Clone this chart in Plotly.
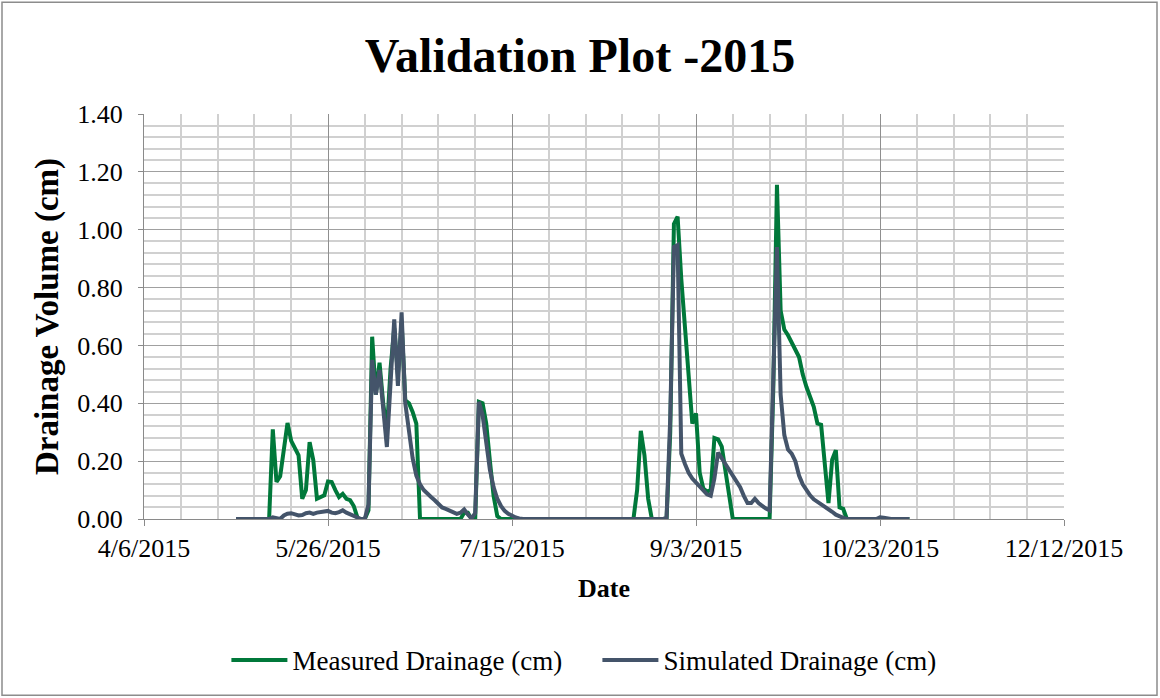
import plotly.graph_objects as go

# ---- data ----
measured_dates = [
    "2015-05-01", "2015-05-10", "2015-05-11", "2015-05-12", "2015-05-13", "2015-05-15",
    "2015-05-16", "2015-05-17", "2015-05-18", "2015-05-19", "2015-05-20", "2015-05-21",
    "2015-05-22", "2015-05-23", "2015-05-24", "2015-05-25", "2015-05-26", "2015-05-27",
    "2015-05-28", "2015-05-29", "2015-05-30", "2015-05-31", "2015-06-01", "2015-06-02",
    "2015-06-03", "2015-06-04", "2015-06-05", "2015-06-06", "2015-06-07", "2015-06-08",
    "2015-06-09", "2015-06-10", "2015-06-11", "2015-06-12", "2015-06-13", "2015-06-14",
    "2015-06-15", "2015-06-16", "2015-06-17", "2015-06-18", "2015-06-19", "2015-06-20",
    "2015-07-01", "2015-07-02", "2015-07-03", "2015-07-04", "2015-07-05", "2015-07-06",
    "2015-07-07", "2015-07-08", "2015-07-09", "2015-07-10", "2015-07-11", "2015-07-12",
    "2015-08-17", "2015-08-18", "2015-08-19", "2015-08-20", "2015-08-21", "2015-08-22",
    "2015-08-26", "2015-08-27", "2015-08-28", "2015-08-29", "2015-08-30", "2015-08-31",
    "2015-09-01", "2015-09-02", "2015-09-03", "2015-09-04", "2015-09-05", "2015-09-06",
    "2015-09-07", "2015-09-08", "2015-09-09", "2015-09-10", "2015-09-13", "2015-09-23",
    "2015-09-24", "2015-09-25", "2015-09-26", "2015-09-27", "2015-09-28", "2015-09-29",
    "2015-09-30", "2015-10-01", "2015-10-02", "2015-10-03", "2015-10-05", "2015-10-06",
    "2015-10-07", "2015-10-09", "2015-10-10", "2015-10-11", "2015-10-12", "2015-10-13",
    "2015-10-14", "2015-10-31",
]
measured_values = [
    0.0, 0.0, 0.31, 0.128, 0.148, 0.332,
    0.27, 0.245, 0.22, 0.07, 0.10, 0.266,
    0.204, 0.07, 0.075, 0.082, 0.13, 0.128,
    0.10, 0.076, 0.087, 0.07, 0.065, 0.045,
    0.005, 0.0, 0.0, 0.03, 0.63, 0.43,
    0.54, 0.40, 0.30, 0.52, 0.66, 0.50,
    0.68, 0.41, 0.40, 0.37, 0.33, 0.0,
    0.0, 0.022, 0.022, 0.0, 0.0, 0.405,
    0.40, 0.33, 0.20, 0.08, 0.01, 0.0,
    0.0, 0.10, 0.305, 0.22, 0.07, 0.0,
    0.0, 0.30, 1.02, 1.045, 0.83, 0.66,
    0.50, 0.33, 0.365, 0.16, 0.105, 0.095,
    0.10, 0.28, 0.275, 0.25, 0.0, 0.0,
    0.45, 1.155, 0.72, 0.655, 0.635, 0.61,
    0.59, 0.56, 0.50, 0.457, 0.388, 0.33,
    0.326, 0.055, 0.205, 0.238, 0.04, 0.035,
    0.0, 0.0,
]

simulated_dates = [
    "2015-05-01", "2015-05-10", "2015-05-11", "2015-05-12", "2015-05-13", "2015-05-14",
    "2015-05-15", "2015-05-16", "2015-05-17", "2015-05-18", "2015-05-19", "2015-05-20",
    "2015-05-21", "2015-05-22", "2015-05-23", "2015-05-24", "2015-05-25", "2015-05-26",
    "2015-05-27", "2015-05-28", "2015-05-29", "2015-05-30", "2015-05-31", "2015-06-01",
    "2015-06-02", "2015-06-03", "2015-06-04", "2015-06-05", "2015-06-06", "2015-06-07",
    "2015-06-08", "2015-06-09", "2015-06-10", "2015-06-11", "2015-06-12", "2015-06-13",
    "2015-06-14", "2015-06-15", "2015-06-16", "2015-06-17", "2015-06-18", "2015-06-19",
    "2015-06-20", "2015-06-21", "2015-06-22", "2015-06-23", "2015-06-24", "2015-06-25",
    "2015-06-26", "2015-06-27", "2015-06-28", "2015-06-29", "2015-06-30", "2015-07-01",
    "2015-07-02", "2015-07-03", "2015-07-04", "2015-07-05", "2015-07-06", "2015-07-07",
    "2015-07-08", "2015-07-09", "2015-07-10", "2015-07-11", "2015-07-12", "2015-07-13",
    "2015-07-14", "2015-07-15", "2015-07-16", "2015-07-17", "2015-07-18", "2015-08-25",
    "2015-08-26", "2015-08-27", "2015-08-28", "2015-08-29", "2015-08-30", "2015-08-31",
    "2015-09-01", "2015-09-02", "2015-09-03", "2015-09-04", "2015-09-05", "2015-09-06",
    "2015-09-07", "2015-09-08", "2015-09-09", "2015-09-10", "2015-09-11", "2015-09-12",
    "2015-09-13", "2015-09-14", "2015-09-15", "2015-09-16", "2015-09-17", "2015-09-18",
    "2015-09-19", "2015-09-20", "2015-09-21", "2015-09-22", "2015-09-23", "2015-09-24",
    "2015-09-25", "2015-09-26", "2015-09-27", "2015-09-28", "2015-09-29", "2015-09-30",
    "2015-10-01", "2015-10-02", "2015-10-03", "2015-10-04", "2015-10-05", "2015-10-06",
    "2015-10-07", "2015-10-08", "2015-10-09", "2015-10-10", "2015-10-11", "2015-10-12",
    "2015-10-13", "2015-10-14", "2015-10-15", "2015-10-22", "2015-10-23", "2015-10-24",
    "2015-10-25", "2015-10-26", "2015-10-31",
]
simulated_values = [
    0.0, 0.0, 0.006, 0.002, 0.0, 0.012,
    0.018, 0.02, 0.016, 0.012, 0.014, 0.02,
    0.022, 0.018, 0.022, 0.025, 0.027, 0.028,
    0.022, 0.02, 0.024, 0.03, 0.022, 0.016,
    0.012, 0.005, 0.0, 0.0, 0.05, 0.55,
    0.43, 0.515, 0.38, 0.249, 0.47, 0.69,
    0.46, 0.714, 0.40, 0.29, 0.21, 0.15,
    0.12, 0.10, 0.09, 0.076, 0.065, 0.05,
    0.04, 0.035, 0.03, 0.022, 0.018, 0.022,
    0.033, 0.016, 0.002, 0.02, 0.405, 0.36,
    0.27, 0.17, 0.11, 0.07, 0.045, 0.028,
    0.018, 0.01, 0.005, 0.002, 0.0, 0.0,
    0.005, 0.35, 0.94, 0.947, 0.226, 0.19,
    0.16, 0.14, 0.125, 0.11, 0.095, 0.085,
    0.08, 0.14, 0.23, 0.21, 0.185, 0.165,
    0.145, 0.13, 0.11, 0.08, 0.055, 0.055,
    0.07, 0.055, 0.045, 0.036, 0.03, 0.45,
    0.94, 0.43, 0.29, 0.24, 0.226, 0.20,
    0.15, 0.12, 0.10, 0.082, 0.068, 0.06,
    0.05, 0.04, 0.032, 0.025, 0.015, 0.008,
    0.004, 0.001, 0.0, 0.0, 0.006, 0.004,
    0.002, 0.0, 0.0,
]

series_names = ["Measured Drainage (cm)", "Simulated Drainage (cm)"]
series_colors = ["#00783A", "#44546A"]

x_range = ["2015-04-06", "2015-12-12"]
y_range = [0, 1.4]
DAY_MS = 86400000

FONT = "Liberation Serif, Times New Roman, serif"

fig = go.Figure()
fig.add_trace(go.Scatter(x=measured_dates, y=measured_values, mode="lines",
                         name=series_names[0],
                         line=dict(color=series_colors[0], width=4)))
fig.add_trace(go.Scatter(x=simulated_dates, y=simulated_values, mode="lines",
                         name=series_names[1],
                         line=dict(color=series_colors[1], width=4)))

fig.update_layout(
    template="none",
    width=1160, height=698,
    margin=dict(l=144, r=96, t=114, b=179, autoexpand=False),
    paper_bgcolor="white", plot_bgcolor="white",
    font=dict(family=FONT, size=26, color="black"),
    title=dict(text="<b>Validation Plot -2015</b>", x=0.5, xref="container",
               xanchor="center", y=1 - 55 / 698, yref="container", yanchor="middle",
               font=dict(family=FONT, size=48, color="black")),
    showlegend=True,
    legend=dict(orientation="h", x=0.515, xref="container", xanchor="center",
                y=-0.349, yanchor="middle", font=dict(family=FONT, size=27),
                itemwidth=56, entrywidth=300, bgcolor="rgba(0,0,0,0)"),
    xaxis=dict(
        type="date", range=x_range, tick0="2015-04-06", dtick=50 * DAY_MS,
        tickformat="%-m/%-d/%Y", showgrid=True, gridcolor="#8f8f8f", gridwidth=1.3,
        showline=True, linecolor="#8a8a8a", linewidth=1.3,
        ticks="outside", ticklen=6, tickcolor="#8a8a8a", zeroline=False,
        minor=dict(dtick=10 * DAY_MS, tick0="2015-04-06", showgrid=True,
                   gridcolor="#d0d0d0", gridwidth=1.5, ticks=""),
        tickfont=dict(family=FONT, size=26),
        title=dict(text="<b>Date</b>", font=dict(family=FONT, size=26), standoff=16),
        automargin=False,
    ),
    yaxis=dict(
        range=y_range, dtick=0.2, tick0=0, tickformat=".2f",
        showgrid=True, gridcolor="#a0a0a0", gridwidth=1.3,
        showline=True, linecolor="#8a8a8a", linewidth=1.3,
        ticks="outside", ticklen=5, tickcolor="#8a8a8a", zeroline=False,
        ticklabelstandoff=10,
        minor=dict(dtick=0.04, tick0=0, showgrid=True, gridcolor="#d0d0d0",
                   gridwidth=1.5, ticks=""),
        tickfont=dict(family=FONT, size=26),
        title=dict(text="<b>Drainage Volume (cm)</b>", font=dict(family=FONT, size=33),
                   standoff=8),
        automargin=False,
    ),
)

# outer chart border
fig.add_shape(type="rect", xref="paper", yref="paper",
              x0=(2 - 144) / 920, x1=(1157 - 144) / 920,
              y0=(518.7 - 695) / 405, y1=(518.7 - 2) / 405,
              line=dict(color="#8c8c8c", width=1.5), fillcolor="rgba(0,0,0,0)",
              layer="below")

fig.write_html("out.html", config={"displayModeBar": False},
               post_script="document.body.style.margin='0';")
